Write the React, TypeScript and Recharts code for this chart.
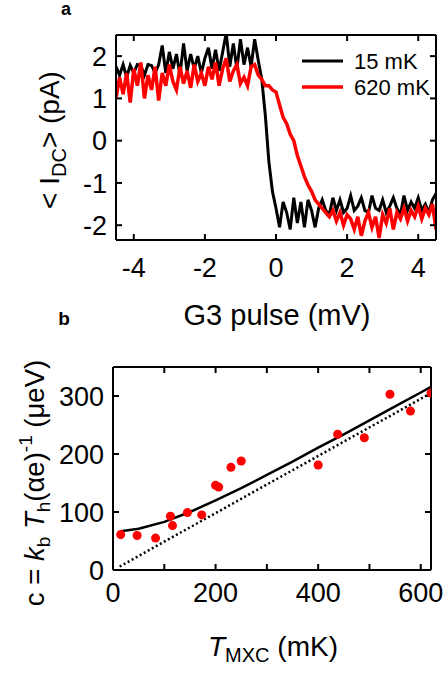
import React from 'react';
import { LineChart, Line, XAxis, YAxis, ComposedChart, Scatter } from 'recharts';

// ---------- Panel a data ----------
const pulseMv = [
  -4.5, -4.4, -4.3, -4.2, -4.1, -4.0, -3.9, -3.8, -3.7, -3.6,
  -3.5, -3.4, -3.3, -3.2, -3.1, -3.0, -2.9, -2.8, -2.7, -2.6,
  -2.5, -2.4, -2.3, -2.2, -2.1, -2.0, -1.9, -1.8, -1.7, -1.6,
  -1.5, -1.4, -1.3, -1.2, -1.1, -1.0, -0.9, -0.8, -0.7, -0.6,
  -0.5, -0.4, -0.3, -0.2, -0.1, 0.0, 0.1, 0.2, 0.3, 0.4,
  0.5, 0.6, 0.7, 0.8, 0.9, 1.0, 1.1, 1.2, 1.3, 1.4,
  1.5, 1.6, 1.7, 1.8, 1.9, 2.0, 2.1, 2.2, 2.3, 2.4,
  2.5, 2.6, 2.7, 2.8, 2.9, 3.0, 3.1, 3.2, 3.3, 3.4,
  3.5, 3.6, 3.7, 3.8, 3.9, 4.0, 4.1, 4.2, 4.3, 4.4,
  4.5,
];
const current15mK = [
  1.75, 1.55, 1.8, 1.5, 1.78, 1.6, 1.8, 1.78, 1.55, 1.8,
  1.78, 1.6, 1.8, 2.25, 1.6, 2.1, 1.7, 2.05, 1.55, 2.3,
  1.65, 2.05, 1.7, 2.0, 1.6, 1.95, 2.2, 1.7, 2.15, 1.65,
  2.1, 2.55, 1.75, 2.3, 1.7, 2.4, 1.8, 2.2, 1.75, 2.4,
  1.9, 1.45, 0.6, -0.5, -1.2, -1.6, -2.05, -1.45, -1.7, -2.1,
  -1.35, -1.95, -1.45, -2.05, -1.4, -1.65, -2.05, -1.6, -1.4, -1.65,
  -1.75, -1.35, -1.65, -1.4, -1.7, -1.6, -1.3, -1.65, -1.55, -1.35,
  -1.65, -1.7, -1.3, -1.6, -1.65, -1.4, -1.7, -1.55, -1.35, -1.6,
  -1.75, -1.3, -1.65, -1.45, -1.6, -1.35, -1.65, -1.5, -1.7, -1.4,
  -1.25,
];
const current620mK = [
  1.0, 1.5, 1.1, 1.6, 0.9, 1.7, 1.3, 1.85, 1.0, 1.55,
  1.2, 1.75, 0.95, 1.6, 1.3, 1.8, 1.4, 1.2, 1.75, 1.35,
  1.65, 1.25, 1.8, 1.4, 1.6, 1.3, 1.75, 1.45, 1.85, 1.3,
  1.7, 1.95, 1.4, 1.65, 1.8, 1.35, 1.5, 1.3, 1.75, 1.8,
  1.55, 1.45, 1.3, 1.3, 1.2, 1.15, 0.85, 0.55, 0.4, 0.15,
  0.0, -0.35, -0.6, -0.85, -1.05, -1.2, -1.4, -1.5, -1.6, -1.7,
  -1.8, -1.65, -1.9, -1.7, -2.0, -1.75, -1.85, -2.1, -1.8, -2.25,
  -1.9, -1.7, -2.05, -1.8, -2.3, -1.75, -1.95, -1.6, -2.1, -1.7,
  -1.85, -1.6, -1.9, -1.65, -1.8, -1.55, -1.85, -1.6, -1.75, -1.5,
  -2.1,
];
const pulseTicks = [-4, -2, 0, 2, 4];
const currentTicks = [-2, -1, 0, 1, 2];

// ---------- Panel b data ----------
const tmxcMeasured = [15, 47, 83, 112, 116, 145, 173, 200, 206, 230, 250, 400, 438, 490, 540, 580, 620];
const cMeasured = [61, 59.5, 55, 92.6, 76.6, 99, 95, 146, 143, 177, 188, 181, 234, 228, 303, 274, 305];
const tmxcFit = [15, 50, 100, 150, 200, 250, 300, 350, 400, 450, 500, 550, 600, 620];
const cFit = [67, 71, 83, 100, 120, 141, 164, 187, 211, 234, 258, 282, 306, 316];
const tmxcLinear = [13, 620];
const cLinear = [6, 305];
const tmxcTicks = [0, 100, 200, 300, 400, 500, 600];
const cTicks = [0, 100, 200, 300];

const FONT = '"Liberation Sans", Arial, sans-serif';
const RED = '#ff0000';

const dataA = pulseMv.map((x, i) => ({ x, k15: current15mK[i], k620: current620mK[i] }));
const measured = tmxcMeasured.map((t, i) => ({ t, c: cMeasured[i] }));
const fit = tmxcFit.map((t, i) => ({ t, c: cFit[i] }));
const linear = tmxcLinear.map((t, i) => ({ t, c: cLinear[i] }));

const axisLine = { stroke: '#000', strokeWidth: 2 };
const tickLine = { stroke: '#000', strokeWidth: 2 };
const tickFont = { fill: '#000', fontSize: 27, fontFamily: FONT };
const blank = () => '';

export default function App() {
  return (
    <div style={{ position: 'absolute', left: 0, top: 0, width: 444, height: 675, background: '#fff', fontFamily: FONT }}>
      <div style={{ position: 'absolute', left: 0, top: 0 }}>
        <LineChart width={444} height={330} data={dataA} margin={{ top: 34, right: 7, bottom: 60, left: 56 }}>
          <XAxis dataKey="x" type="number" domain={[-4.5, 4.5]} allowDataOverflow ticks={pulseTicks}
            axisLine={axisLine} tickLine={tickLine} tickSize={-6} tickMargin={24} tick={tickFont} height={30} interval={0} />
          <XAxis xAxisId="top" orientation="top" dataKey="x" type="number" domain={[-4.5, 4.5]} allowDataOverflow ticks={pulseTicks}
            axisLine={axisLine} tickLine={tickLine} tickSize={-6} tickFormatter={blank} height={1} interval={0} />
          <YAxis type="number" domain={[-2.35, 2.5]} allowDataOverflow ticks={currentTicks}
            axisLine={axisLine} tickLine={tickLine} tickSize={-6} tickMargin={15} tick={tickFont} width={60} interval={0} />
          <YAxis yAxisId="right" orientation="right" type="number" domain={[-2.35, 2.5]} allowDataOverflow ticks={currentTicks}
            axisLine={axisLine} tickLine={tickLine} tickSize={-6} tickFormatter={blank} width={1} interval={0} />
          <Line xAxisId="top" yAxisId="right" dataKey="k15" stroke="none" strokeWidth={0} dot={false} isAnimationActive={false} />
          <Line dataKey="k15" stroke="#000" strokeWidth={3} dot={false} isAnimationActive={false} />
          <Line dataKey="k620" stroke={RED} strokeWidth={3.5} dot={false} isAnimationActive={false} />
        </LineChart>
      </div>
      <div style={{ position: 'absolute', left: 0, top: 330 }}>
        <ComposedChart width={444} height={345} margin={{ top: 36, right: 12, bottom: 65, left: 53 }}>
          <XAxis dataKey="t" type="number" domain={[0, 620]} allowDataOverflow ticks={tmxcTicks}
            tickFormatter={(v: number) => (v % 200 === 0 ? String(v) : '')}
            axisLine={axisLine} tickLine={tickLine} tickSize={-6} tickMargin={19} tick={tickFont} height={40} interval={0} />
          <XAxis xAxisId="top" orientation="top" dataKey="t" type="number" domain={[0, 620]} allowDataOverflow ticks={tmxcTicks}
            axisLine={axisLine} tickLine={tickLine} tickSize={-6} tickFormatter={blank} height={1} interval={0} />
          <YAxis dataKey="c" type="number" domain={[0, 350]} allowDataOverflow ticks={cTicks}
            axisLine={axisLine} tickLine={tickLine} tickSize={-6} tickMargin={15} tick={tickFont} width={60} interval={0} />
          <YAxis yAxisId="right" orientation="right" type="number" domain={[0, 350]} allowDataOverflow ticks={cTicks}
            axisLine={axisLine} tickLine={tickLine} tickSize={-6} tickFormatter={blank} width={1} interval={0} />
          <Line xAxisId="top" yAxisId="right" data={fit} dataKey="c" stroke="none" strokeWidth={0} dot={false} isAnimationActive={false} />
          <Line data={linear} dataKey="c" stroke="#000" strokeWidth={2.5} strokeDasharray="2 2.6" dot={false} isAnimationActive={false} />
          <Line data={fit} dataKey="c" stroke="#000" strokeWidth={2.5} dot={false} isAnimationActive={false} />
          <Scatter data={measured} dataKey="c" fill={RED} isAnimationActive={false} />
        </ComposedChart>
      </div>
      <svg width={444} height={675} style={{ position: 'absolute', left: 0, top: 0, pointerEvents: 'none' }} fontFamily={FONT}>
        <text x={66} y={15} fontSize={18} fontWeight="bold" textAnchor="middle">a</text>
        <text x={64} y={325} fontSize={19} fontWeight="bold" textAnchor="middle">b</text>
        <text x={277} y={325} fontSize={29} textAnchor="middle">G3 pulse (mV)</text>
        <text transform="rotate(-90 59 140)" x={59} y={140} fontSize={28} textAnchor="middle">
          {'< I'}<tspan fontSize={20} dy={7}>DC</tspan><tspan dy={-7}>{'> (pA)'}</tspan>
        </text>
        <line x1={302} y1={61} x2={343} y2={61} stroke="#000" strokeWidth={3} />
        <line x1={302} y1={87} x2={343} y2={87} stroke={RED} strokeWidth={3.5} />
        <text x={354} y={69} fontSize={22}>15 mK</text>
        <text x={354} y={95} fontSize={22}>620 mK</text>
        <text transform="rotate(-90 44 483)" x={44} y={483} fontSize={27.5} textAnchor="middle">
          {'c = '}<tspan fontStyle="italic">k</tspan><tspan fontSize={19} dy={6}>b</tspan>
          <tspan dy={-6}>{' '}</tspan><tspan fontStyle="italic">T</tspan><tspan fontSize={19} dy={6}>h</tspan>
          <tspan dy={-6}>(αe)</tspan><tspan fontSize={19} dy={-12}>-1</tspan><tspan dy={12}>{'  (μeV)'}</tspan>
        </text>
        <text x={273} y={656} fontSize={28} textAnchor="middle">
          <tspan fontStyle="italic">T</tspan><tspan fontSize={20} dy={6}>MXC</tspan><tspan dy={-6}>{' (mK)'}</tspan>
        </text>
      </svg>
    </div>
  );
}
